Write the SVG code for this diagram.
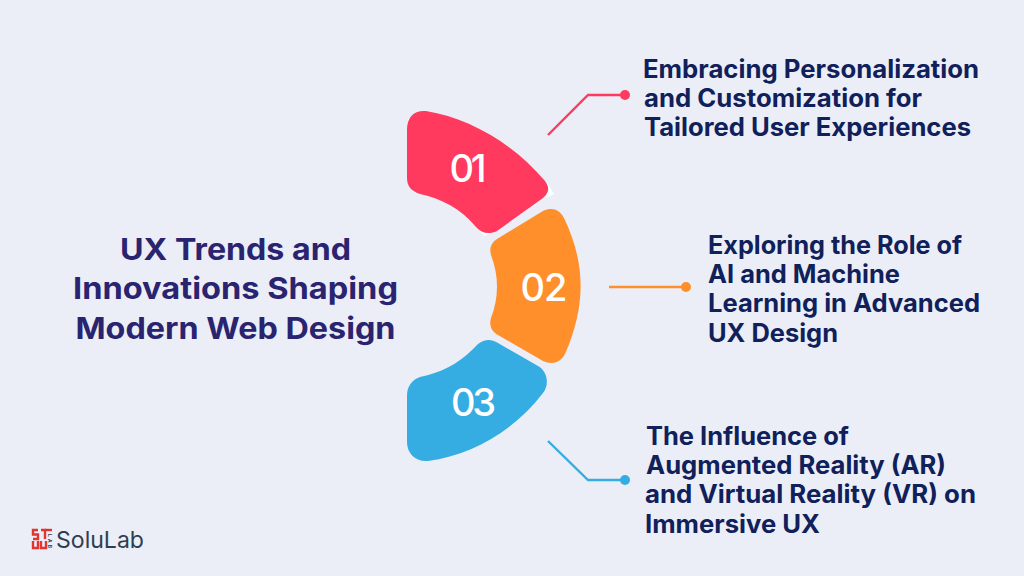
<svg xmlns="http://www.w3.org/2000/svg" width="1024" height="576" viewBox="0 0 1024 576">
<style>
.t{font-family:"Inter","Liberation Sans",sans-serif;font-weight:700;fill:#10205a;font-size:25px}
.h{font-family:"Inter","Liberation Sans",sans-serif;font-weight:700;fill:#2a2470;font-size:30px;text-anchor:middle}
.n{font-family:"Inter","Liberation Sans",sans-serif;font-weight:500;fill:#fff;font-size:38px;text-anchor:middle}
.c{fill:none;stroke-width:2.400}
</style>
<rect width="1024" height="576" fill="#ebeef6"/>
<g id="title">
<text class="h" x="235.500" y="259.500" textLength="231" lengthAdjust="spacingAndGlyphs">UX Trends and</text>
<text class="h" x="235.500" y="299" textLength="325" lengthAdjust="spacingAndGlyphs">Innovations Shaping</text>
<text class="h" x="235.500" y="338.500" textLength="320" lengthAdjust="spacingAndGlyphs">Modern Web Design</text>
</g>
<g id="connectors">
<path class="c" stroke="#ff3a5e" d="M548 135L588 95H625"/><circle cx="625" cy="95" r="5" fill="#ff3a5e"/>
<path class="c" stroke="#ff8f2b" d="M609 287H686"/><circle cx="686" cy="287" r="5" fill="#ff8f2b"/>
<path class="c" stroke="#35ade2" d="M548 441L588 480H625"/><circle cx="625" cy="480" r="5" fill="#35ade2"/>
</g>
<g id="node-01">
<path fill="#fff" d="M407 119H416L412 125ZM547 183L554 194L546 198ZM478 229L484 236L492 232Z"/>
<path fill="#ff3a5e" d="M407 130C407 117 414 110 426 111C470 118 515 145 545 181C550 188 549 193 543 198L497 231C489 235 481 233 476 227C460 208 442 199 420 194C411 191 407 186 407 178Z"/>
<text class="n" x="468" y="181.500" textLength="37" lengthAdjust="spacing">01</text>
</g>
<g id="node-02">
<path fill="#ff8f2b" d="M543 211C552 207 559 209 564 218C586 264 586 306 565 354C560 363 552 365 543 361L498 335C491 331 489 325 491 318C499 297 499 276 491 255C489 248 491 243 497 239Z"/>
<text class="n" x="544" y="300.500" textLength="47" lengthAdjust="spacing">02</text>
</g>
<g id="node-03">
<path fill="#35ade2" d="M478 344C485 339 491 339 498 343L538 366C547 371 550 384 543 393C514 431 472 455 428 461C415 462 407 453 407 442V396C407 386 412 380 420 377C440 373 458 364 472 350Z"/>
<text class="n" x="473.500" y="415.500" textLength="45" lengthAdjust="spacing">03</text>
</g>
<g id="item-1">
<text class="t" x="643" y="77.500" textLength="336" lengthAdjust="spacingAndGlyphs">Embracing Personalization</text>
<text class="t" x="644" y="106.500" textLength="278" lengthAdjust="spacingAndGlyphs">and Customization for</text>
<text class="t" x="644" y="136" textLength="327" lengthAdjust="spacingAndGlyphs">Tailored User Experiences</text>
</g>
<g id="item-2">
<text class="t" x="708" y="253.500" textLength="254" lengthAdjust="spacingAndGlyphs">Exploring the Role of</text>
<text class="t" x="708" y="283" textLength="192" lengthAdjust="spacingAndGlyphs">AI and Machine</text>
<text class="t" x="708" y="312" textLength="272" lengthAdjust="spacingAndGlyphs">Learning in Advanced</text>
<text class="t" x="708" y="341.500" textLength="130" lengthAdjust="spacingAndGlyphs">UX Design</text>
</g>
<g id="item-3">
<text class="t" x="646" y="444.500" textLength="203" lengthAdjust="spacingAndGlyphs">The Influence of</text>
<text class="t" x="646" y="474" textLength="300" lengthAdjust="spacingAndGlyphs">Augmented Reality (AR)</text>
<text class="t" x="645" y="503" textLength="331" lengthAdjust="spacingAndGlyphs">and Virtual Reality (VR) on</text>
<text class="t" x="645" y="532.500" textLength="175" lengthAdjust="spacingAndGlyphs">Immersive UX</text>
</g>
<g id="logo">
<g fill="none" stroke="#e5342f" stroke-width="2.400">
<path d="M38 530H33V534.500H38V539H33"/><path d="M41 530H45V539"/><path d="M33 541V548H38V541"/><path d="M41 541V548H46V541"/><path d="M45 530H52"/>
</g>
<text transform="translate(47.500 534) rotate(90)" font-family="Inter,'Liberation Sans',sans-serif" font-size="5" font-weight="700" fill="#2f3e50" textLength="14">LAB</text>
<text x="56" y="548" font-family="Inter,'Liberation Sans',sans-serif" font-size="23.500" fill="#2f3e50" textLength="88" lengthAdjust="spacingAndGlyphs">SoluLab</text>
</g>
</svg>
